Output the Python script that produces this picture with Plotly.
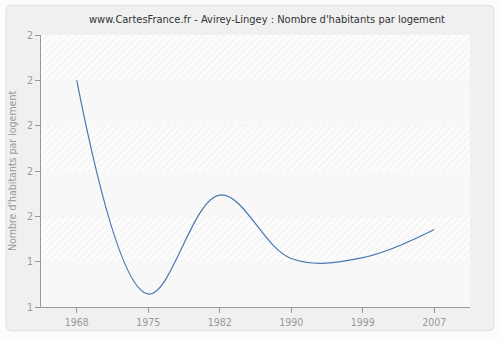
import plotly.graph_objects as go

years = ["1968", "1975", "1982", "1990", "1999", "2007"]
values = [2.20, 1.257, 1.694, 1.414, 1.418, 1.542]
y_ticks = [1.2, 1.4, 1.6, 1.8, 2.0, 2.2, 2.4]
y_labels = ["1", "1", "2", "2", "2", "2", "2"]

W, H = 500, 340
ml, mr, mt, mb = 40, 30, 35, 30
idx = list(range(len(years)))
xr = [-0.5, len(years) - 0.5]
FONT = "DejaVu Sans Condensed, Liberation Sans, sans-serif"

fig = go.Figure()

# alternating background bands (hatched / plain)
for i in range(len(y_ticks) - 1):
    y0, y1 = y_ticks[i], y_ticks[i + 1]
    hatched = (len(y_ticks) - 2 - i) % 2 == 0
    kw = dict(x=[xr[0], xr[1], xr[1], xr[0], xr[0]], y=[y0, y0, y1, y1, y0],
              fill="toself", mode="none", hoverinfo="skip", showlegend=False)
    if hatched:
        kw["fillcolor"] = "#fcfcfc"
        kw["fillpattern"] = dict(shape="/", fgcolor="#e3e3e3", bgcolor="#fcfcfc",
                                 size=5, solidity=0.18)
    else:
        kw["fillcolor"] = "#f8f8f8"
    fig.add_trace(go.Scatter(**kw))

fig.add_trace(go.Scatter(
    x=idx, y=values, mode="lines",
    line=dict(color="#4a78b0", width=1.2, shape="spline", smoothing=1.05),
    showlegend=False,
))

# rounded outer frame
pw, ph = W - ml - mr, H - mt - mb
x0p, x1p = (5 - ml) / pw, (494 - ml) / pw
y0p, y1p = (H - mb - 334) / ph, (H - mb - 5) / ph
rx, ry = 6 / pw, 6 / ph
path = (f"M{x0p+rx},{y0p} L{x1p-rx},{y0p} Q{x1p},{y0p} {x1p},{y0p+ry} "
        f"L{x1p},{y1p-ry} Q{x1p},{y1p} {x1p-rx},{y1p} L{x0p+rx},{y1p} "
        f"Q{x0p},{y1p} {x0p},{y1p-ry} L{x0p},{y0p+ry} Q{x0p},{y0p} {x0p+rx},{y0p} Z")
fig.add_shape(type="path", path=path, xref="paper", yref="paper",
              fillcolor="#f0f0f0", line=dict(color="#dedede", width=1), layer="below")

axis_common = dict(showgrid=True, gridcolor="#e0e0e0", griddash="dash", gridwidth=1,
                   showline=True, linecolor="#999999", linewidth=1,
                   ticks="outside", ticklen=5, tickcolor="#999999",
                   zeroline=False, tickfont=dict(family=FONT, size=10.5, color="#999999"))

fig.update_layout(
    width=W, height=H,
    margin=dict(l=ml, r=mr, t=mt, b=mb),
    paper_bgcolor="#fcfcfc",
    plot_bgcolor="#f8f8f8",
    font=dict(family=FONT, size=11, color="#999999"),
    title=dict(text="www.CartesFrance.fr - Avirey-Lingey : Nombre d'habitants par logement",
               x=0.534, xanchor="center", y=0.945, yanchor="middle",
               font=dict(family=FONT, size=11, color="#333333")),
    xaxis=dict(range=xr, tickvals=idx, ticktext=years, **axis_common),
    yaxis=dict(range=[y_ticks[0], y_ticks[-1]], tickvals=y_ticks, ticktext=y_labels,
               title=dict(text="Nombre d'habitants par logement", standoff=8,
                          font=dict(family=FONT, size=10.5, color="#999999")),
               **axis_common),
)

fig.write_html("out.html")
